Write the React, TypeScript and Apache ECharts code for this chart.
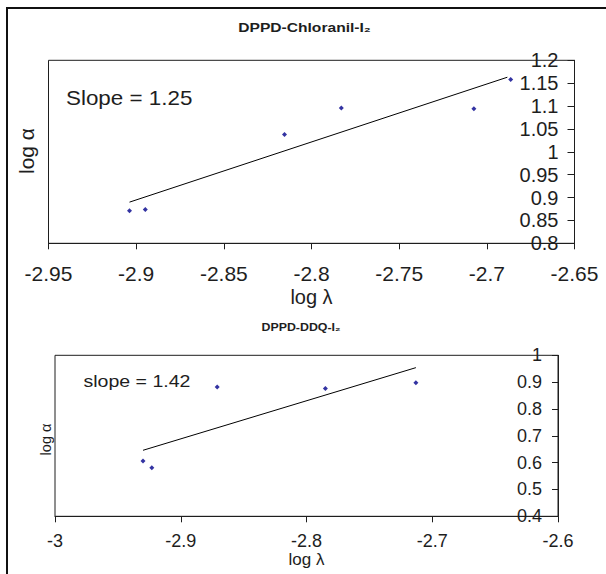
import React, { useEffect, useRef } from 'react';
import * as echarts from 'echarts';

const FONT = '"Liberation Sans", Arial, Helvetica, sans-serif';
const INK = '#1e1e1e';

// texts
const chartTitles = ['DPPD-Chloranil-I₂', 'DPPD-DDQ-I₂'];
const xAxisName = 'log λ';
const yAxisName = 'log α';
const slopeLabels = ['Slope = 1.25', 'slope = 1.42'];

// axis ranges [min, max, interval]
const x1Axis = [-2.95, -2.65, 0.05];
const y1Axis = [0.8, 1.2, 0.05];
const x2Axis = [-3, -2.6, 0.1];
const y2Axis = [0.4, 1, 0.1];

// DPPD-Chloranil-I2
const chloranilLogLambda = [-2.9038, -2.8948, -2.8154, -2.783, -2.7074, -2.6864];
const chloranilLogAlpha = [0.871, 0.874, 1.038, 1.096, 1.094, 1.158];
const chloranilFitLogLambda = [-2.9038, -2.6883];
const chloranilFitLogAlpha = [0.89, 1.163];

// DPPD-DDQ-I2
const ddqLogLambda = [-2.93, -2.923, -2.871, -2.785, -2.713];
const ddqLogAlpha = [0.606, 0.581, 0.882, 0.876, 0.898];
const ddqFitLogLambda = [-2.93, -2.713];
const ddqFitLogAlpha = [0.646, 0.954];

const pairs = (xs: number[], ys: number[]) => xs.map((x, i) => [x, ys[i]]);

const xAxisCfg = (grid: number, r: number[], fs: number, margin: number, nameGap: number, nameFs: number) => ({
  type: 'value',
  gridIndex: grid,
  min: r[0],
  max: r[1],
  interval: r[2],
  axisLine: { show: true, onZero: false, lineStyle: { color: INK, width: 1 } },
  axisTick: { show: true, inside: false, length: 6, lineStyle: { color: INK, width: 1 } },
  axisLabel: { fontSize: fs, color: INK, margin, fontFamily: FONT },
  splitLine: { show: false },
  name: xAxisName,
  nameLocation: 'middle',
  nameGap,
  nameTextStyle: { fontSize: nameFs, color: INK, fontFamily: FONT },
});

const yAxisCfg = (grid: number, r: number[], fs: number, tickLen: number) => ({
  type: 'value',
  gridIndex: grid,
  position: 'right',
  min: r[0],
  max: r[1],
  interval: r[2],
  axisLine: { show: true, onZero: false, lineStyle: { color: INK, width: 1 } },
  axisTick: { show: true, inside: true, length: tickLen, lineStyle: { color: INK, width: 1 } },
  axisLabel: { inside: true, fontSize: fs, color: INK, margin: 16, fontFamily: FONT },
  splitLine: { show: false },
});

const textEl = (
  text: string,
  x: number,
  y: number,
  fontSize: number,
  opts: { bold?: boolean; align?: string; scaleX?: number; rotation?: number } = {}
) => ({
  type: 'text',
  x,
  y,
  scaleX: opts.scaleX ?? 1,
  rotation: opts.rotation ?? 0,
  silent: true,
  style: {
    text,
    fontSize,
    fontFamily: FONT,
    fontWeight: opts.bold ? 'bold' : 'normal',
    fill: INK,
    textAlign: opts.align ?? 'center',
    textVerticalAlign: 'middle',
    align: opts.align ?? 'center',
    verticalAlign: 'middle',
  },
});

export default function App() {
  const ref = useRef<HTMLDivElement>(null);

  useEffect(() => {
    if (!ref.current) return;
    const chart = echarts.init(ref.current, undefined, { renderer: 'svg' });
    chart.setOption({
      animation: false,
      backgroundColor: '#ffffff',
      grid: [
        { left: 48.5, top: 60.3, width: 526, height: 183, show: true, borderColor: INK, borderWidth: 1 },
        { left: 55, top: 355.3, width: 503, height: 161, show: true, borderColor: INK, borderWidth: 1 },
      ],
      xAxis: [xAxisCfg(0, x1Axis, 21, 20, 44, 20), xAxisCfg(1, x2Axis, 18, 16, 34, 17)],
      yAxis: [yAxisCfg(0, y1Axis, 20, 7), yAxisCfg(1, y2Axis, 18, 6)],
      series: [
        {
          type: 'line',
          xAxisIndex: 0,
          yAxisIndex: 0,
          data: pairs(chloranilFitLogLambda, chloranilFitLogAlpha),
          showSymbol: false,
          lineStyle: { color: '#000', width: 1 },
          z: 2,
        },
        {
          type: 'scatter',
          xAxisIndex: 0,
          yAxisIndex: 0,
          data: pairs(chloranilLogLambda, chloranilLogAlpha),
          symbol: 'diamond',
          symbolSize: 5,
          itemStyle: { color: '#00008b' },
          z: 3,
        },
        {
          type: 'line',
          xAxisIndex: 1,
          yAxisIndex: 1,
          data: pairs(ddqFitLogLambda, ddqFitLogAlpha),
          showSymbol: false,
          lineStyle: { color: '#000', width: 1 },
          z: 2,
        },
        {
          type: 'scatter',
          xAxisIndex: 1,
          yAxisIndex: 1,
          data: pairs(ddqLogLambda, ddqLogAlpha),
          symbol: 'diamond',
          symbolSize: 5,
          itemStyle: { color: '#00008b' },
          z: 3,
        },
      ],
      graphic: [
        {
          type: 'rect',
          silent: true,
          shape: { x: 7, y: 8, width: 700, height: 700 },
          style: { fill: 'none', stroke: '#111', lineWidth: 2 },
        },
        textEl(chartTitles[0], 304.5, 27.5, 12.5, { bold: true, scaleX: 1.25 }),
        textEl(chartTitles[1], 301, 327.5, 10.5, { bold: true, scaleX: 1.18 }),
        textEl(slopeLabels[0], 66, 97.5, 20, { align: 'left', scaleX: 1.12 }),
        textEl(slopeLabels[1], 83.5, 380.5, 17, { align: 'left', scaleX: 1.15 }),
        textEl(yAxisName, 26, 151, 21, { rotation: Math.PI / 2 }),
        textEl(yAxisName, 45.5, 439.5, 14.5, { rotation: Math.PI / 2 }),
      ],
    });
    return () => chart.dispose();
  }, []);

  return (
    <div
      ref={ref}
      style={{ position: 'absolute', left: 0, top: 0, width: 606, height: 574, background: '#fff' }}
    />
  );
}
